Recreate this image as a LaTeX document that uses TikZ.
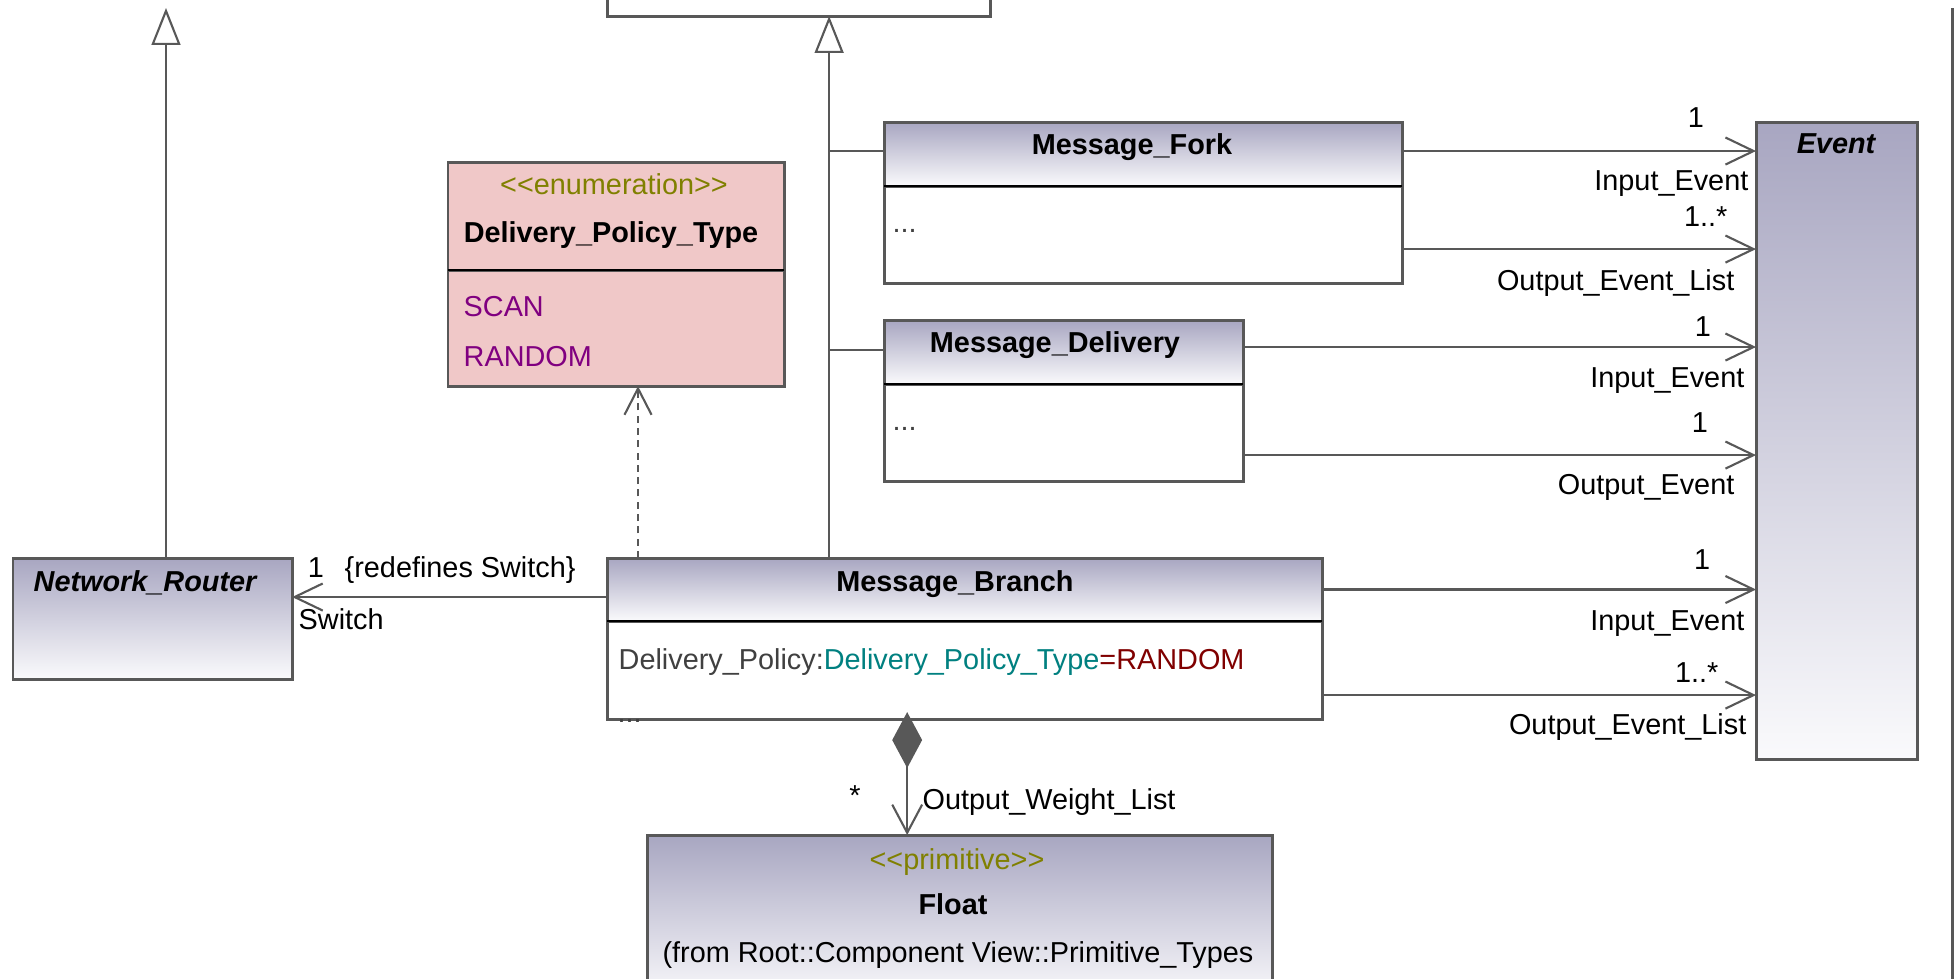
\documentclass[tikz,border=0pt]{standalone}
\usepackage{fontspec}
\setmainfont{Liberation Sans}
\usetikzlibrary{arrows.meta}

\definecolor{umltop}{RGB}{168,166,193}
\definecolor{umlbot}{RGB}{250,250,252}
\definecolor{boxline}{RGB}{88,88,88}
\definecolor{enumfill}{RGB}{240,200,200}
\definecolor{stereo}{RGB}{128,128,0}
\definecolor{literal}{RGB}{128,0,128}
\definecolor{typename}{RGB}{0,128,128}
\definecolor{initval}{RGB}{128,0,0}
\definecolor{attrtext}{RGB}{64,64,64}

\newcommand\umlfont{\fontsize{8.2}{10}\selectfont}

\begin{document}
\begin{tikzpicture}[x=0.01cm, y=-0.01cm,
    every node/.style={font=\umlfont, inner sep=0pt},
    classbox/.style={draw=boxline, line width=0.85pt, outer sep=0pt, anchor=north west},
    shadedbox/.style={classbox, top color=umltop, bottom color=umlbot},
    bodybox/.style={classbox, fill=white},
    enumbox/.style={classbox, fill=enumfill},
    divider/.style={line width=0.75pt, black},
    classname/.style={font=\umlfont\bfseries, anchor=base},
    abstractname/.style={font=\umlfont\bfseries\itshape},
    conn/.style={draw=boxline, line width=0.6pt},
    assoc/.style={conn, -{Straight Barb[length=8pt, width=7.7pt]}},
    gen/.style={conn, -{Triangle[fill=white, length=10.5pt, width=8.2pt]}},
    dep/.style={conn, dash pattern=on 2pt off 1.5pt, -{Straight Barb[length=7.5pt, width=7.7pt]}},
    comp/.style={conn, {Diamond[length=15.9pt, width=8.5pt]}-{Straight Barb[length=8pt, width=8.5pt]}},
    role/.style={anchor=base east},
    mult/.style={anchor=base}]
  \useasboundingbox (0,0) rectangle (1957,978);

  % classes
  \node[bodybox, minimum width=3.83cm, minimum height=0.56cm] (parent) at (607,-40) {};
  \node[shadedbox, minimum width=2.79cm, minimum height=1.21cm] (router) at (13,558) {};
  \node[shadedbox, minimum width=1.61cm, minimum height=6.37cm] (event) at (1756,122) {};

  \node[shadedbox, minimum width=5.18cm, minimum height=0.64cm] (fork) at (884,122) {};
  \node[bodybox, minimum width=5.18cm, minimum height=0.97cm] (forkbody) at (fork.south west) {};
  \draw[divider] (fork.south west) -- (fork.south east);

  \node[shadedbox, minimum width=3.59cm, minimum height=0.64cm] (delivery) at (884,320) {};
  \node[bodybox, minimum width=3.59cm, minimum height=0.97cm] (deliverybody) at (delivery.south west) {};
  \draw[divider] (delivery.south west) -- (delivery.south east);

  \node[shadedbox, minimum width=7.15cm, minimum height=0.63cm] (branch) at (607,558) {};
  \node[bodybox, minimum width=7.15cm, minimum height=0.98cm] (branchbody) at (branch.south west) {};
  \draw[divider] (branch.south west) -- (branch.south east);

  \node[enumbox, minimum width=3.36cm, minimum height=1.08cm] (policy) at (448,162) {};
  \node[enumbox, minimum width=3.36cm, minimum height=1.16cm] (policybody) at (policy.south west) {};
  \draw[divider] (policy.south west) -- (policy.south east);

  \node[shadedbox, minimum width=6.25cm, minimum height=1.65cm] (float) at (647,835) {};

  % class texts
  \node[abstractname, anchor=base west] (routername) at (33,591) {Network\_Router};
  \node[abstractname, anchor=base] (eventname) at (1836,153) {Event};
  \node[classname] (forkname) at (1132,154) {Message\_Fork};
  \node[anchor=base west, attrtext] (forkdots) at (892,232) {...};
  \node[classname] (deliveryname) at (1055,352) {Message\_Delivery};
  \node[anchor=base west, attrtext] (deliverydots) at (892,430) {...};
  \node[classname] (branchname) at (955,591) {Message\_Branch};
  \node[anchor=base west] (branchattr) at (618,669)
    {\color{attrtext}Delivery\_Policy:\color{typename}Delivery\_Policy\_Type\color{initval}=RANDOM};
  \node[anchor=base west, attrtext] (branchdots) at (617,722) {...};
  \node[anchor=base, stereo] (policystereo) at (614,194) {<{}<enumeration>{}>};
  \node[classname] (policyname) at (611,242) {Delivery\_Policy\_Type};
  \node[anchor=base west, literal] (scan) at (463,316) {SCAN};
  \node[anchor=base west, literal] (random) at (463,366) {RANDOM};
  \node[anchor=base, stereo] (floatstereo) at (957,869) {<{}<primitive>{}>};
  \node[classname] (floatname) at (953,914) {Float};
  \node[anchor=base] (floatorigin) at (958,962) {(from Root::Component View::Primitive\_Types};

  % generalizations
  \coordinate (rootend) at (166,8);
  \draw[gen] (router.north -| rootend) -- (rootend);
  \coordinate (trunk) at ([xshift=2.22cm]branch.north west);
  \draw[gen] (trunk) -- (trunk |- parent.south);
  \draw[conn] ([yshift=0.03cm]fork.west) -- ([yshift=0.03cm]fork.west -| trunk);
  \draw[conn] ([yshift=0.02cm]delivery.west) -- ([yshift=0.02cm]delivery.west -| trunk);

  % associations to Event
  \draw[assoc] ([yshift=0.03cm]fork.east) -- ([yshift=0.03cm]fork.east -| event.west);
  \draw[assoc] ([yshift=-0.145cm]forkbody.east) -- ([yshift=-0.145cm]forkbody.east -| event.west);
  \draw[assoc] ([yshift=0.05cm]delivery.east) -- ([yshift=0.05cm]delivery.east -| event.west);
  \draw[assoc] ([yshift=-0.225cm]deliverybody.east) -- ([yshift=-0.225cm]deliverybody.east -| event.west);
  \draw[assoc] (branch.east) -- (branch.east -| event.west);
  \draw[assoc] ([yshift=-0.25cm]branchbody.east) -- ([yshift=-0.25cm]branchbody.east -| event.west);

  \node[mult] (forkinmult) at (1696,127) {1};
  \node[role] (forkinrole) at (1749,190) {Input\_Event};
  \node[role] (forkoutmult) at (1728,226) {1..*};
  \node[role] (forkoutrole) at (1735,290) {Output\_Event\_List};
  \node[mult] (deliveryinmult) at (1703,336) {1};
  \node[role] (deliveryinrole) at (1745,387) {Input\_Event};
  \node[mult] (deliveryoutmult) at (1700,432) {1};
  \node[role] (deliveryoutrole) at (1735,494) {Output\_Event};
  \node[mult] (branchinmult) at (1702,569) {1};
  \node[role] (branchinrole) at (1745,630) {Input\_Event};
  \node[role] (branchoutmult) at (1719,682) {1..*};
  \node[role] (branchoutrole) at (1747,734) {Output\_Event\_List};

  % switch association
  \draw[assoc] ([yshift=-0.075cm]branch.west) -- ([yshift=-0.075cm]branch.west -| router.east);
  \node[mult] (switchmult) at (316,577) {1};
  \node[anchor=base west] (switchnote) at (344,577) {\{redefines Switch\}};
  \node[anchor=base west] (switchrole) at (298,629) {Switch};

  % dependency and composition
  \draw[dep] ([xshift=0.31cm]branch.north west) -- ([xshift=0.31cm]branch.north west |- policybody.south);
  \draw[comp] ([xshift=3cm, yshift=0.07cm]branchbody.south west) -- ([xshift=3cm]branchbody.south west |- float.north);
  \node[mult] (weightmult) at (855,805) {*};
  \node[anchor=base west] (weightrole) at (922,809) {Output\_Weight\_List};

  % diagram frame
  \draw[boxline, line width=0.85pt] (1952,8) -- (1952,990);
\end{tikzpicture}
\end{document}
